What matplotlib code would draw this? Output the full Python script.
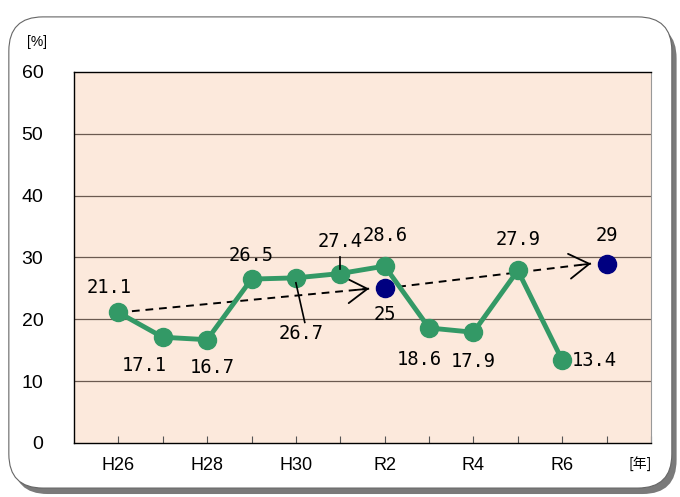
import matplotlib
matplotlib.use("Agg")
import matplotlib.pyplot as plt
from matplotlib.patches import FancyBboxPatch

plt.rcParams['font.family'] = ['Liberation Sans Narrow', 'Liberation Sans', 'Noto Sans CJK JP', 'DejaVu Sans']

years = ["H26", "H27", "H28", "H29", "H30", "R1", "R2", "R3", "R4", "R5", "R6", "R7"]
tick_labels = ["H26", "", "H28", "", "H30", "", "R2", "", "R4", "", "R6", ""]
rate = [21.1, 17.1, 16.7, 26.5, 26.7, 27.4, 28.6, 18.6, 17.9, 27.9, 13.4]
target_years = ["R2", "R7"]
target_vals = [25, 29]

# label offsets in points (dx, dy) for each data point
label_off = [(-7, 18), (-13, -20), (4, -20), (0, 17), (4, -40), (0, 23), (0, 22), (-7, -23), (0, -21), (0, 22), (23, 0)]

fig = plt.figure(figsize=(6.8, 4.97), dpi=100)

# rounded frame with shadow
shadow = FancyBboxPatch((0.02, 0.006), 0.975, 0.945, boxstyle="round,pad=0,rounding_size=0.05",
                        transform=fig.transFigure, facecolor="#7a7a7a", edgecolor="none",
                        mutation_aspect=680 / 497, zorder=0)
frame = FancyBboxPatch((0.013, 0.018), 0.975, 0.948, boxstyle="round,pad=0,rounding_size=0.05",
                       transform=fig.transFigure, facecolor="white", edgecolor="#666666",
                       linewidth=0.8, mutation_aspect=680 / 497, zorder=1)
fig.patches.extend([shadow, frame])

ax = fig.add_axes([0.1088, 0.1087, 0.8485, 0.7466])
ax.set_facecolor("#fce9dc")
ax.set_zorder(2)

x = list(range(1, len(rate) + 1))
tx = [years.index(t) + 1 for t in target_years]

ax.set_xlim(0, 13)
ax.set_ylim(0, 60)
ax.set_yticks(range(0, 61, 10))
ax.set_xticks(range(1, 14))
ax.set_xticklabels(tick_labels + [""])
ax.tick_params(axis='x', direction='in', length=5, width=0.8, color="#555555", labelsize=13, pad=10)
ax.tick_params(axis='y', length=0, labelsize=14, pad=22)
for y in range(10, 60, 10):
    ax.axhline(y, color="#6b5a50", linewidth=0.9, zorder=1)
for s in ["top", "left", "bottom"]:
    ax.spines[s].set_color("black")
    ax.spines[s].set_linewidth(1.0)
ax.spines["right"].set_color("#999999")

# dashed arrows between targets (dashed shaft + solid open head)
segments = [((x[0], rate[0]), (tx[0] - 0.35, target_vals[0] - 0.05)),
            ((tx[0], target_vals[0]), (tx[1] - 0.35, target_vals[1]))]
for (x0, y0), (x1, y1) in segments:
    ax.plot([x0, x1], [y0, y1], color="black", lw=1.4, linestyle=(0, (4, 3)), zorder=3)
    ax.annotate("", xy=(x1, y1), xytext=(x1 - 0.05 * (x1 - x0), y1 - 0.05 * (y1 - y0)),
                arrowprops=dict(arrowstyle="->,head_length=0.45,head_width=0.28", color="black",
                                lw=1.3, mutation_scale=32, shrinkA=0, shrinkB=0), zorder=3)

ax.plot(x, rate, color="#339966", linewidth=3.5, marker="o", markersize=13, zorder=4)
ax.scatter(tx, target_vals, s=170, color="#000080", zorder=5)

lab_font = ['DejaVu Sans Mono']
for xi, v, (dx, dy) in zip(x, rate, label_off):
    ax.annotate(f"{v}", (xi, v), xytext=(dx, dy), textcoords="offset points",
                ha="center", va="center", fontsize=13.5, family=lab_font, zorder=6)

# leader lines
ax.plot([5, 5.2], [25.9, 19.5], color="black", lw=1.2, zorder=5)
ax.plot([6, 6], [28.2, 30.0], color="black", lw=1.2, zorder=5)

ax.annotate("25", (tx[0], target_vals[0]), xytext=(0, -19), textcoords="offset points",
            ha="center", va="center", fontsize=13.5, family=lab_font, zorder=6)
ax.annotate("29", (tx[1], target_vals[1]), xytext=(0, 20), textcoords="offset points",
            ha="center", va="center", fontsize=13.5, family=lab_font, zorder=6)

fig.text(0.055, 0.915, "[%]", fontsize=10, ha="center", va="center")
fig.text(0.942, 0.068, "[年]", fontsize=10, ha="center", va="center",
         family=['Noto Sans CJK JP', 'DejaVu Sans'])

fig.savefig("out.png", dpi=100)
